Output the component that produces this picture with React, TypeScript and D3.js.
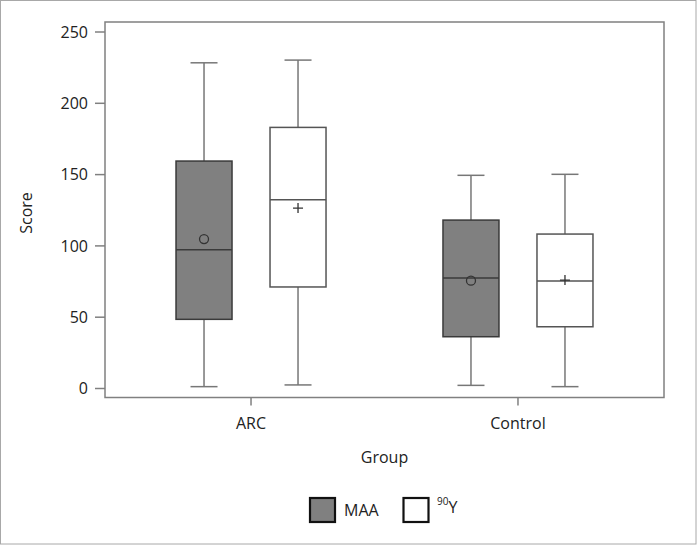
import React from "react";
import * as d3 from "d3";

const groups = ["ARC", "Control"];
const seriesNames = ["MAA", "90Y"];
// [min, q1, median, q3, max, mean] per group
const maaStats = [
  [1.3, 48.5, 97.3, 159.5, 228.4, 104.8],
  [2.2, 36.3, 77.5, 118.1, 149.5, 75.6],
];
const y90Stats = [
  [2.5, 71.2, 132.4, 183.1, 230.3, 126.5],
  [1.3, 43.3, 75.4, 108.3, 150.2, 76.0],
];
const yTicks = [0, 50, 100, 150, 200, 250];

const W = 697;
const H = 545;
const L = 105, R = 664, T = 22, B = 397.5;
const FONT = "'Open Sans', 'Noto Sans', sans-serif";

export default function App() {
  const y = d3.scaleLinear().domain([0, 250]).range([388.5, 32]);
  const x = d3.scalePoint<string>().domain(groups).range([L, R]).padding(0.547);
  const offsets = [-47, 47];
  const boxW = 56;
  const capW = 27;
  const fills = ["#808080", "#ffffff"];
  const strokes = ["#3a3a3a", "#555555"];
  const allStats = [maaStats, y90Stats];

  return (
    <svg width={W} height={H} style={{ position: "absolute", left: 0, top: 0 }} fontFamily={FONT}>
      <rect x={0.5} y={0.5} width={W - 1.5} height={H - 1.5} fill="#fff" stroke="#a8a8a8" strokeWidth={1} />
      <rect x={L} y={T} width={R - L} height={B - T} fill="none" stroke="#808080" strokeWidth={1.5} />
      {/* y axis */}
      {yTicks.map((t) => (
        <g key={t}>
          <line x1={95} x2={L} y1={y(t)} y2={y(t)} stroke="#808080" strokeWidth={1.5} />
          <text x={88} y={y(t)} dy="0.35em" textAnchor="end" fontSize={16} fill="#222">{t}</text>
        </g>
      ))}
      <text transform={`translate(32,213) rotate(-90)`} textAnchor="middle" fontSize={16} fill="#222">Score</text>
      {/* x axis */}
      {groups.map((g) => (
        <g key={g}>
          <line x1={x(g)!} x2={x(g)!} y1={B} y2={B + 8} stroke="#808080" strokeWidth={1.5} />
          <text x={x(g)!} y={423} dy="0.35em" textAnchor="middle" fontSize={16} fill="#222">{g}</text>
        </g>
      ))}
      <text x={(L + R) / 2} y={457} dy="0.35em" textAnchor="middle" fontSize={16} fill="#222">Group</text>
      {/* boxes */}
      {allStats.map((stats, si) =>
        stats.map((s, gi) => {
          const cx = x(groups[gi])! + offsets[si];
          const [mn, q1, med, q3, mx, mean] = s;
          return (
            <g key={`${si}-${gi}`}>
              <line x1={cx} x2={cx} y1={y(mx)} y2={y(q3)} stroke="#777" strokeWidth={1.5} />
              <line x1={cx} x2={cx} y1={y(q1)} y2={y(mn)} stroke="#777" strokeWidth={1.5} />
              <line x1={cx - capW / 2} x2={cx + capW / 2} y1={y(mx)} y2={y(mx)} stroke="#777" strokeWidth={1.5} />
              <line x1={cx - capW / 2} x2={cx + capW / 2} y1={y(mn)} y2={y(mn)} stroke="#777" strokeWidth={1.5} />
              <rect x={cx - boxW / 2} y={y(q3)} width={boxW} height={y(q1) - y(q3)} fill={fills[si]} stroke={strokes[si]} strokeWidth={1.5} />
              <line x1={cx - boxW / 2} x2={cx + boxW / 2} y1={y(med)} y2={y(med)} stroke={strokes[si]} strokeWidth={1.5} />
              {si === 0 ? (
                <circle cx={cx} cy={y(mean)} r={4.5} fill="none" stroke="#333" strokeWidth={1.3} />
              ) : (
                <path d={`M${cx - 5},${y(mean)}H${cx + 5}M${cx},${y(mean) - 5}V${y(mean) + 5}`} stroke="#333" strokeWidth={1.3} />
              )}
            </g>
          );
        })
      )}
      {/* legend */}
      <rect x={310} y={498} width={25} height={24} fill={fills[0]} stroke="#111" strokeWidth={2.2} />
      <text x={344} y={510} dy="0.35em" fontSize={16} fill="#222">{seriesNames[0]}</text>
      <rect x={403.5} y={498} width={25} height={24} fill={fills[1]} stroke="#111" strokeWidth={2.2} />
      <text x={437} y={510} dy="0.35em" fontSize={16} fill="#222">
        <tspan fontSize={10} dy="-0.55em">90</tspan>
        <tspan dy="0.55em">Y</tspan>
      </text>
    </svg>
  );
}
